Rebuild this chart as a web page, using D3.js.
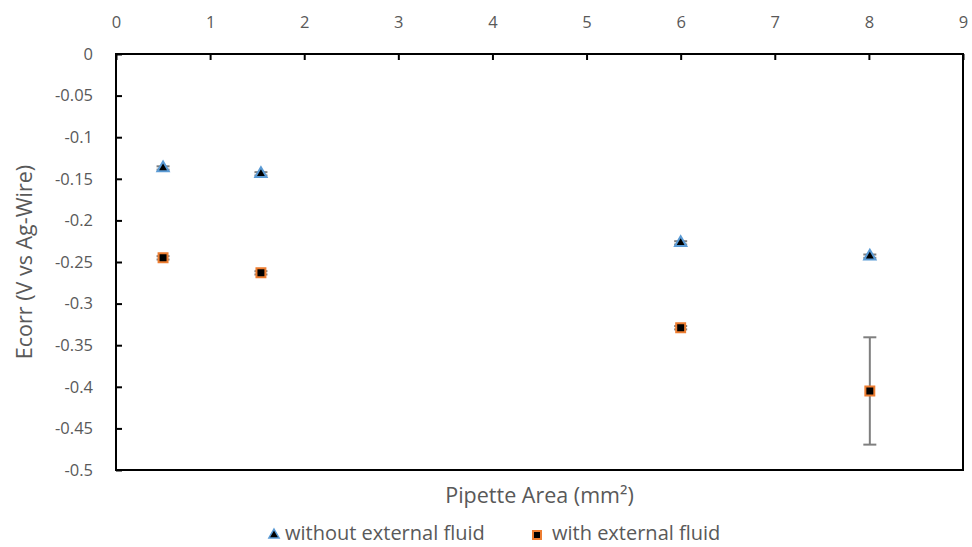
<!DOCTYPE html>
<html>
<head>
<meta charset="utf-8">
<script src="https://cdn.jsdelivr.net/npm/d3@7"></script>
<style>
  html, body { margin: 0; padding: 0; background: #fff; }
  svg text { font-family: "Open Sans", "Liberation Sans", sans-serif; fill: #595959; }
</style>
</head>
<body>
<svg id="chart" width="972" height="547"></svg>
<script>
// Pipette area (mm²) for each measurement
const pipetteArea = [0.50, 1.54, 6.00, 8.01];
// Corrosion potential, V vs Ag-wire
const ecorrWithout = [-0.137, -0.144, -0.227, -0.243];
const errWithout = [0.002, 0.002, 0.002, 0.002];
const ecorrWith = [-0.245, -0.263, -0.329, -0.405];
const errWith = [0.002, 0.002, 0.002, 0.0645];

const xTicks = [0, 1, 2, 3, 4, 5, 6, 7, 8, 9];
const yTicks = [0, -0.05, -0.1, -0.15, -0.2, -0.25, -0.3, -0.35, -0.4, -0.45, -0.5];
const seriesNames = ["without external fluid", "with external fluid"];

const svg = d3.select("#chart");
const m = { left: 116, right: 963, top: 54, bottom: 470 };

const x = d3.scaleLinear().domain([0, 9]).range([m.left, m.right]);
const y = d3.scaleLinear().domain([0, -0.5]).range([m.top, m.bottom]);

// Frame
svg.append("rect")
  .attr("x", m.left).attr("y", m.top)
  .attr("width", m.right - m.left).attr("height", m.bottom - m.top)
  .attr("fill", "none").attr("stroke", "#000").attr("stroke-width", 2);

// Top axis: ticks pointing into the plot
const xAxis = svg.append("g")
  .attr("transform", `translate(0,${m.top})`)
  .call(d3.axisTop(x).tickValues(xTicks).tickSize(-6).tickPadding(26).tickFormat(d3.format("d")));
xAxis.select(".domain").remove();
xAxis.selectAll(".tick line").attr("stroke", "#000").attr("stroke-width", 2);
xAxis.selectAll(".tick text").attr("font-size", 16.5).attr("fill", "#595959")
  .attr("font-family", "'Open Sans', sans-serif");

// Left axis: ticks pointing into the plot
const yAxis = svg.append("g")
  .attr("transform", `translate(${m.left},0)`)
  .call(d3.axisLeft(y).tickValues(yTicks).tickSize(-6).tickPadding(23)
    .tickFormat(d => d === 0 ? "0" : String(d)));
yAxis.select(".domain").remove();
yAxis.selectAll(".tick line").attr("stroke", "#000").attr("stroke-width", 2);
yAxis.selectAll(".tick text").attr("font-size", 16.5).attr("fill", "#595959")
  .attr("font-family", "'Open Sans', sans-serif");

// Axis titles
svg.append("text")
  .attr("x", (m.left + m.right) / 2).attr("y", 503)
  .attr("text-anchor", "middle").attr("font-size", 21.5)
  .text("Pipette Area (mm²)");
svg.append("text")
  .attr("transform", `translate(32,${(m.top + m.bottom) / 2}) rotate(-90)`)
  .attr("text-anchor", "middle").attr("font-size", 21.5)
  .text("Ecorr (V vs Ag-Wire)");

// Error bars
function errorBars(vals, errs) {
  const g = svg.append("g").attr("stroke", "#7f7f7f").attr("stroke-width", 2);
  vals.forEach((v, i) => {
    const cx = x(pipetteArea[i]);
    const y1 = y(v + errs[i]), y2 = y(v - errs[i]);
    g.append("line").attr("x1", cx).attr("x2", cx).attr("y1", y1).attr("y2", y2);
    g.append("line").attr("x1", cx - 6.5).attr("x2", cx + 6.5).attr("y1", y1).attr("y2", y1);
    g.append("line").attr("x1", cx - 6.5).attr("x2", cx + 6.5).attr("y1", y2).attr("y2", y2);
  });
}
errorBars(ecorrWithout, errWithout);
errorBars(ecorrWith, errWith);

const triangle = d3.symbol().type(d3.symbolTriangle).size(55);
const square = d3.symbol().type(d3.symbolSquare).size(80);

svg.append("g").selectAll("path").data(ecorrWithout).join("path")
  .attr("d", triangle)
  .attr("transform", (d, i) => `translate(${x(pipetteArea[i])},${y(d)})`)
  .attr("fill", "#000").attr("stroke", "#5b9bd5").attr("stroke-width", 2);

svg.append("g").selectAll("path").data(ecorrWith).join("path")
  .attr("d", square)
  .attr("transform", (d, i) => `translate(${x(pipetteArea[i])},${y(d)})`)
  .attr("fill", "#000").attr("stroke", "#ed7d31").attr("stroke-width", 2);

// Legend
const legend = svg.append("g");
legend.append("path").attr("d", d3.symbol().type(d3.symbolTriangle).size(45)())
  .attr("transform", "translate(274,535)")
  .attr("fill", "#000").attr("stroke", "#5b9bd5").attr("stroke-width", 1.5);
legend.append("text").attr("x", 285).attr("y", 540).attr("font-size", 20).text(seriesNames[0]);
legend.append("path").attr("d", d3.symbol().type(d3.symbolSquare).size(64)())
  .attr("transform", "translate(537,535)")
  .attr("fill", "#000").attr("stroke", "#ed7d31").attr("stroke-width", 2);
legend.append("text").attr("x", 552).attr("y", 540).attr("font-size", 20).text(seriesNames[1]);
</script>
</body>
</html>
